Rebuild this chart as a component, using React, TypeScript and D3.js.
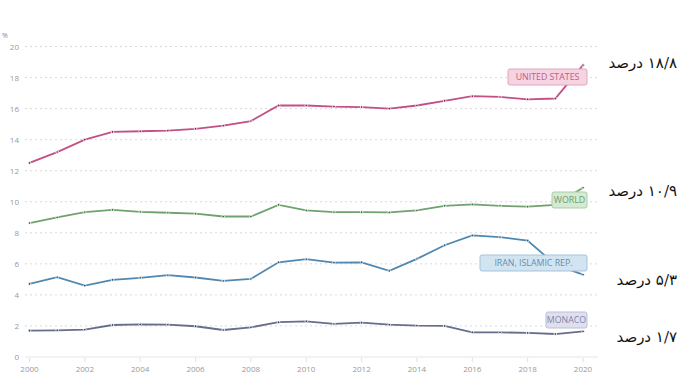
import React from "react";
import * as d3 from "d3";

const years = d3.range(2000, 2021);
const usValues = [12.5, 13.2, 14.0, 14.5, 14.54, 14.58, 14.7, 14.9, 15.2, 16.2, 16.2, 16.13, 16.1, 16.0, 16.2, 16.5, 16.8, 16.75, 16.6, 16.65, 18.8];
const worldValues = [8.63, 8.99, 9.33, 9.48, 9.35, 9.29, 9.23, 9.05, 9.05, 9.8, 9.44, 9.33, 9.33, 9.31, 9.44, 9.74, 9.83, 9.74, 9.68, 9.8, 10.9];
const iranValues = [4.71, 5.14, 4.6, 4.97, 5.1, 5.27, 5.12, 4.9, 5.03, 6.1, 6.3, 6.08, 6.1, 5.55, 6.32, 7.2, 7.83, 7.72, 7.5, 5.95, 5.3];
const monacoValues = [1.7, 1.72, 1.76, 2.06, 2.1, 2.08, 1.98, 1.74, 1.91, 2.24, 2.3, 2.13, 2.21, 2.08, 2.02, 2.0, 1.59, 1.59, 1.55, 1.48, 1.65];
const yTicks = [0, 2, 4, 6, 8, 10, 12, 14, 16, 18, 20];
const xTicks = [2000, 2002, 2004, 2006, 2008, 2010, 2012, 2014, 2016, 2018, 2020];

const seriesNames = ["UNITED STATES", "WORLD", "IRAN, ISLAMIC REP.", "MONACO"];
const seriesValues = [usValues, worldValues, iranValues, monacoValues];
const seriesColors = ["#c44f86", "#6ea36e", "#4f88b0", "#676d8c"];
const dotColors = ["#7a2150", "#3d6a3d", "#24506f", "#3a3f58"];
const labelFill = ["#f6d3e1", "#d5e9d3", "#d3e4f1", "#dfe0ee"];
const labelStroke = ["#e2a6c0", "#a9cfa6", "#a3c3dc", "#bcbfd9"];
const labelText = ["#c25a88", "#6c9f6a", "#5f8fb5", "#7f84ab"];
const labelWidths = [79, 35, 107, 41];
const labelYs = [77, 200, 263, 320];

const annotations = ["۱۸/۸ درصد", "۱۰/۹ درصد", "۵/۳  درصد", "۱/۷ درصد"];
const annotationYs = [68, 196, 285, 342];

export default function App() {
  const x = d3.scaleLinear().domain([2000, 2020]).range([29.5, 583]);
  const y = d3.scaleLinear().domain([0, 20]).range([357, 46.5]);
  const line = d3
    .line<number>()
    .x((_, i) => x(years[i]))
    .y((v) => y(v));

  return (
    <svg
      width={700}
      height={381}
      style={{ position: "absolute", left: 0, top: 0, background: "#fff" }}
      fontFamily="'Open Sans', 'Noto Sans', sans-serif"
    >
      <rect width={700} height={381} fill="#fff" />
      <text x={2} y={38} fontSize={7} fill="#888">%</text>
      {yTicks.map((t) => (
        <g key={t}>
          <line
            x1={25}
            x2={598}
            y1={y(t)}
            y2={y(t)}
            stroke={t === 0 ? "#e3e6ea" : "#dadada"}
            strokeWidth={1}
            strokeDasharray={t === 0 ? undefined : "2,3"}
          />
          <text x={19} y={y(t) + 3} fontSize={8} fill="#999" textAnchor="end">
            {t}
          </text>
        </g>
      ))}
      {xTicks.map((t) => (
        <g key={t}>
          <line x1={x(t)} x2={x(t)} y1={358} y2={362} stroke="#e0e0e0" />
          <text x={x(t)} y={372} fontSize={8} fill="#999" textAnchor="middle">
            {t}
          </text>
        </g>
      ))}
      {seriesValues.map((vals, si) => (
        <g key={si}>
          <path d={line(vals) || ""} fill="none" stroke={seriesColors[si]} strokeWidth={1.8} />
          {vals.map((v, i) => (
            <circle
              key={i}
              cx={x(years[i])}
              cy={y(v)}
              r={1.3}
              fill={dotColors[si]}
              stroke="#fff"
              strokeWidth={0.8}
            />
          ))}
        </g>
      ))}
      {seriesNames.map((n, si) => (
        <g key={n}>
          <rect
            x={587 - labelWidths[si]}
            y={labelYs[si] - 8}
            width={labelWidths[si]}
            height={16}
            rx={2}
            fill={labelFill[si]}
            stroke={labelStroke[si]}
            strokeWidth={1}
          />
          <text
            x={587 - labelWidths[si] / 2}
            y={labelYs[si] + 3}
            fontSize={8.8}
            fill={labelText[si]}
            textAnchor="middle"
          >
            {n}
          </text>
        </g>
      ))}
      {annotations.map((a, i) => (
        <text
          key={i}
          x={677}
          y={annotationYs[i]}
          fontSize={15}
          fill="#111"
          textAnchor="start"
          direction="rtl"
          fontFamily="'DejaVu Serif', 'DejaVu Sans', serif"
        >
          {a}
        </text>
      ))}
    </svg>
  );
}
